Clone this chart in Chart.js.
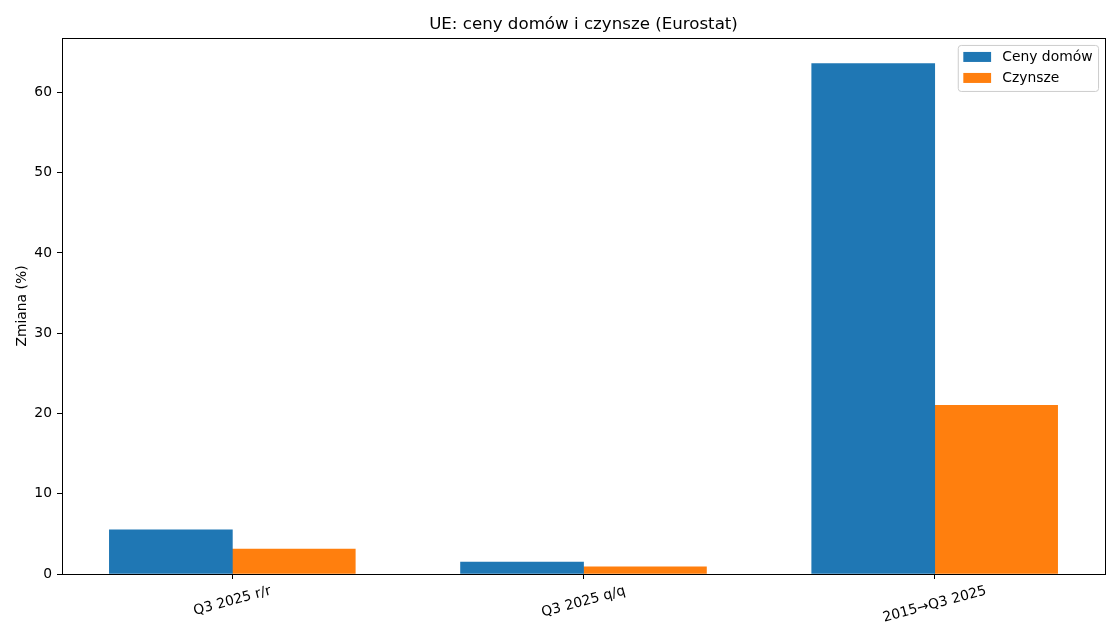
<!DOCTYPE html>
<html>
<head>
<meta charset="utf-8">
<script src="https://cdn.jsdelivr.net/npm/chart.js@4.4.1/dist/chart.umd.min.js"></script>
<style>
  html, body { margin: 0; padding: 0; background: #fff; }
  #wrap { width: 1120px; height: 640px; }
</style>
</head>
<body>
<div id="wrap"><canvas id="chart"></canvas></div>
<script>
const categories = ["Q3 2025 r/r", "Q3 2025 q/q", "2015→Q3 2025"];
const housePrices = [5.5, 1.5, 63.6];
const rents = [3.1, 0.9, 21.0];
const yTicks = [0, 10, 20, 30, 40, 50, 60];
const seriesNames = ["Ceny domów", "Czynsze"];
const colors = ["#1f77b4", "#ff7f0e"];
const chartTitle = "UE: ceny domów i czynsze (Eurostat)";
const yLabel = "Zmiana (%)";

const FONT = "'DejaVu Sans', sans-serif";
const barW = 0.35;
const yMax = Math.max(...housePrices, ...rents) * 1.05;

Chart.defaults.font.family = FONT;
Chart.defaults.font.size = 13.89;
Chart.defaults.color = "#000";

// matplotlib-ish extras: full frame, centred title, rotated x labels, boxed legend
const extras = {
  id: "extras",
  afterDatasetsDraw(chart) {
    const { ctx, chartArea: a } = chart;
    ctx.save();
    ctx.strokeStyle = "#000";
    ctx.lineWidth = 1;
    ctx.strokeRect(Math.round(a.left) + 0.5, Math.round(a.top) + 0.5,
      Math.round(a.right - a.left), Math.round(a.bottom - a.top));
    ctx.restore();
  },
  afterDraw(chart) {
    const { ctx, chartArea: a } = chart;
    const xs = chart.scales.x;
    ctx.save();

    // title
    ctx.font = "16.67px " + FONT;
    ctx.fillStyle = "#000";
    ctx.textAlign = "center";
    ctx.textBaseline = "middle";
    ctx.fillText(chartTitle, (a.left + a.right) / 2, 24.5);

    // x tick labels, rotated 15deg around their centre
    ctx.font = "13.89px " + FONT;
    const rot = 15 * Math.PI / 180;
    categories.forEach((lab, i) => {
      const x = xs.getPixelForValue(i);
      const w = ctx.measureText(lab).width;
      const H = w * Math.sin(rot) + 13.89 * Math.cos(rot);
      const cy = a.bottom + 10 + H / 2;
      ctx.save();
      ctx.translate(x, cy);
      ctx.rotate(-rot);
      ctx.fillText(lab, 0, 0);
      ctx.restore();
    });

    // legend
    const fs = 13.89;
    const tw = Math.max(...seriesNames.map(s => ctx.measureText(s).width));
    const bw = 0.4 * fs + 2 * fs + 0.8 * fs + tw + 0.4 * fs;
    const bh = 46;
    const bx = a.right - 0.5 * fs - bw;
    const by = a.top + 0.5 * fs;
    ctx.beginPath();
    ctx.roundRect(bx + 0.5, by + 0.5, bw, bh, 3);
    ctx.fillStyle = "rgba(255,255,255,0.8)";
    ctx.fill();
    ctx.strokeStyle = "#cccccc";
    ctx.lineWidth = 1;
    ctx.stroke();
    ctx.textAlign = "left";
    seriesNames.forEach((s, i) => {
      const cy = by + 12 + i * 21;
      ctx.fillStyle = colors[i];
      ctx.fillRect(bx + 0.4 * fs, cy - 5, 2 * fs, 10);
      ctx.fillStyle = "#000";
      ctx.fillText(s, bx + 0.4 * fs + 2 * fs + 0.8 * fs, cy);
    });
    ctx.restore();
  }
};

new Chart(document.getElementById("chart"), {
  type: "bar",
  data: {
    datasets: [
      {
        label: seriesNames[0],
        data: housePrices.map((v, i) => ({ x: i - barW / 2, y: v })),
        backgroundColor: colors[0],
        borderColor: colors[0],
      },
      {
        label: seriesNames[1],
        data: rents.map((v, i) => ({ x: i + barW / 2, y: v })),
        backgroundColor: colors[1],
        borderColor: colors[1],
      },
    ],
  },
  options: {
    responsive: true,
    maintainAspectRatio: false,
    animation: false,
    layout: { padding: { top: 38, right: 15, bottom: 0, left: 0 } },
    datasets: {
      bar: { grouped: false, barThickness: 123, borderWidth: 0 },
    },
    scales: {
      x: {
        type: "linear",
        min: -0.485,
        max: categories.length - 1 + 0.485,
        offset: false,
        afterBuildTicks: (s) => { s.ticks = categories.map((_, i) => ({ value: i })); },
        afterFit: (s) => { s.height = 66; },
        ticks: { display: false },
        grid: { offset: false, drawOnChartArea: false, color: "#000", tickLength: 5 },
        border: { color: "#000" },
      },
      y: {
        min: 0,
        max: yMax,
        afterBuildTicks: (s) => { s.ticks = yTicks.map(v => ({ value: v })); },
        afterFit: (s) => { s.width = 62; },
        ticks: { padding: 5 },
        grid: { drawOnChartArea: false, color: "#000", tickLength: 5 },
        border: { color: "#000" },
        title: { display: true, text: yLabel, padding: { top: 14, bottom: 0 } },
      },
    },
    plugins: {
      legend: { display: false },
      title: { display: false },
      tooltip: { enabled: false },
    },
  },
  plugins: [extras],
});
</script>
</body>
</html>
